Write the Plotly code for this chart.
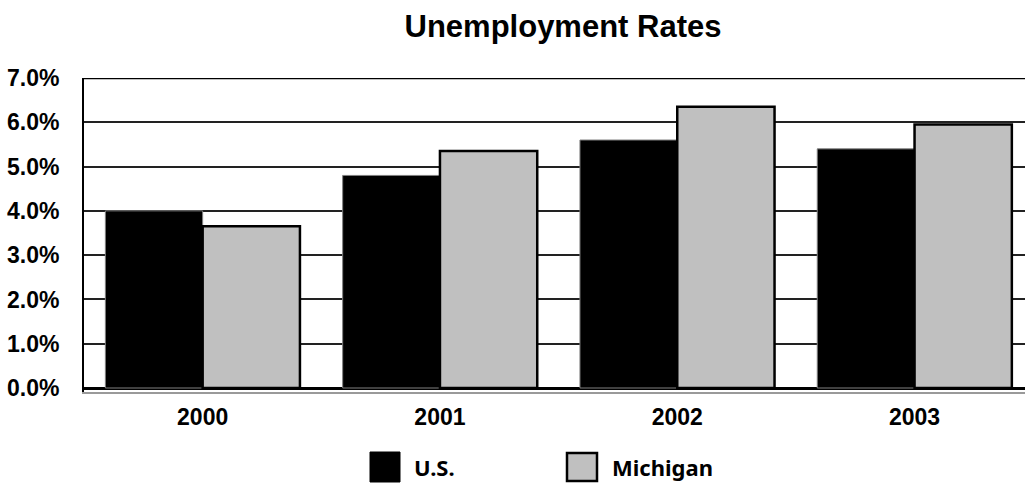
import plotly.graph_objects as go

# Annual unemployment rates (%)
years = ["2000", "2001", "2002", "2003"]
us_rates = [4.0, 4.8, 5.6, 5.4]
michigan_rates = [3.65, 5.35, 6.35, 5.95]
y_ticks = [0, 1, 2, 3, 4, 5, 6, 7]
series_names = ["U.S.", "Michigan"]

W, H = 1025, 483
L, R, T, B = 84, 0, 78, 91  # plot area margins in px

x_pos = list(range(len(years)))

fig = go.Figure()
fig.add_trace(go.Bar(
    x=x_pos, y=us_rates, name=series_names[0],
    marker=dict(color="#000000", line=dict(color="#808080", width=1)),
    showlegend=False,
))
fig.add_trace(go.Bar(
    x=x_pos, y=michigan_rates, name=series_names[1],
    marker=dict(color="#c0c0c0", line=dict(color="#000000", width=2.5)),
    showlegend=False,
))

plot_w = W - L - R
plot_h = H - T - B


def px_x(px):
    return (px - L) / plot_w


def px_y(py):
    return (H - B - py) / plot_h


shapes = [
    # heavy frame line along the top of the plot area
    dict(type="line", xref="paper", yref="y", x0=0, x1=1, y0=7, y1=7,
         line=dict(color="#000000", width=2.5)),
    # legend swatches
    dict(type="rect", xref="paper", yref="paper",
         x0=px_x(370), x1=px_x(400), y0=px_y(482), y1=px_y(452),
         fillcolor="#000000", line=dict(color="#000000", width=1)),
    dict(type="rect", xref="paper", yref="paper",
         x0=px_x(567), x1=px_x(597), y0=px_y(481), y1=px_y(453),
         fillcolor="#c0c0c0", line=dict(color="#000000", width=2.5)),
]

legend_font = dict(family="Noto Sans", size=22, color="#000000", weight="bold")
annotations = [
    dict(text=series_names[0], xref="paper", yref="paper", x=px_x(412), y=px_y(467),
         xanchor="left", yanchor="middle", showarrow=False, font=legend_font),
    dict(text=series_names[1], xref="paper", yref="paper", x=px_x(610), y=px_y(467),
         xanchor="left", yanchor="middle", showarrow=False, font=legend_font),
]

SANS = "Arial, 'Liberation Sans', Helvetica, sans-serif"
tick_font = dict(family=SANS, size=23, color="#000000", weight="bold")

fig.update_layout(
    width=W, height=H,
    margin=dict(l=L, r=R, t=T, b=B, pad=0),
    paper_bgcolor="white", plot_bgcolor="white",
    barmode="group", bargap=0.18, bargroupgap=0,
    title=dict(text="Unemployment Rates", x=563 / W, xanchor="center",
               y=1 - 26 / H, yanchor="middle",
               font=dict(family=SANS, size=31, color="#000000", weight="bold")),
    shapes=shapes,
    annotations=annotations,
)

fig.update_xaxes(
    range=[-0.5, -0.5 + plot_w / 237.3],
    tickmode="array", tickvals=x_pos, ticktext=years,
    showgrid=False, zeroline=False,
    showline=True, linecolor="#9a9a9a", linewidth=2,
    ticks="", ticklabelstandoff=3,
    tickfont=tick_font,
)

fig.update_yaxes(
    range=[-0.09, 7],
    tickmode="array", tickvals=y_ticks,
    ticktext=[f"{v:.1f}%" for v in y_ticks],
    showgrid=True, gridcolor="#222222", gridwidth=1.5,
    zeroline=True, zerolinecolor="#000000", zerolinewidth=3,
    showline=True, linecolor="#000000", linewidth=2,
    ticks="", ticklabelstandoff=18,
    tickfont=tick_font,
)

fig.write_html("out.html")
